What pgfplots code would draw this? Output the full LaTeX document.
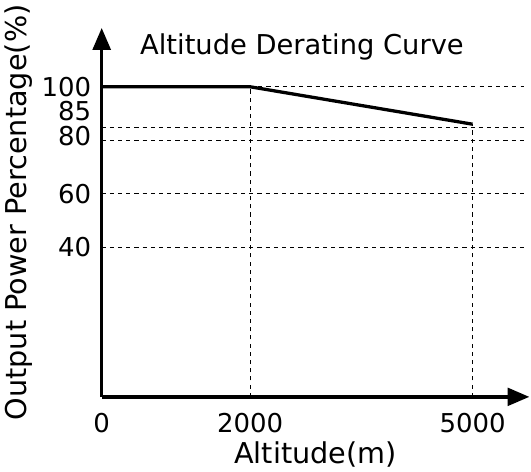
\documentclass[border=0pt]{standalone}
\usepackage{pgfplots}
\pgfplotsset{compat=1.18}
\usetikzlibrary{arrows.meta}
\usepackage{fontspec}
\setmainfont{DejaVu Sans}
\begin{document}
\begin{tikzpicture}[x=0.75pt,y=0.75pt]
\begin{axis}[
  scale only axis, width=313pt, height=270pt,
  xmin=0, xmax=5766, ymin=-16, ymax=122,
  axis lines=left,
  axis line style={line width=2.4pt,-{Triangle[length=16pt,width=13pt]}},
  xtick={0,2000,5000}, ytick={40,60,80,85,100},
  yticklabels={40,60,{\raisebox{-4pt}[0pt][0pt]{80}},{\raisebox{5pt}[0pt][0pt]{85}},100},
  tick style={draw=none},
  ticklabel style={font=\fontsize{19}{19}\selectfont},
  /pgf/number format/assume math mode=true,
  /pgf/number format/1000 sep={},
  xticklabel style={yshift=-6pt},
  yticklabel style={xshift=-2pt},
  xlabel={Altitude(m)}, ylabel={Output Power Percentage(\%)},
  label style={font=\fontsize{21}{21}\selectfont},
  clip=false,
]
\addplot[black,dashed,thin] coordinates {(2000,100)(5700,100)};
\addplot[black,dashed,thin] coordinates {(0,85)(5700,85)};
\addplot[black,dashed,thin] coordinates {(0,80)(5700,80)};
\addplot[black,dashed,thin] coordinates {(0,60)(5700,60)};
\addplot[black,dashed,thin] coordinates {(0,40)(5700,40)};
\addplot[black,dashed,thin] coordinates {(2000,-16)(2000,100)};
\addplot[black,dashed,thin] coordinates {(5000,-16)(5000,86)};
\addplot[black,line width=2.4pt] coordinates {(0,100)(2000,100)(5000,86)};
\node[font=\fontsize{20}{20}\selectfont] at (axis cs:2700,115) {Altitude Derating Curve};
\end{axis}
\end{tikzpicture}
\end{document}
